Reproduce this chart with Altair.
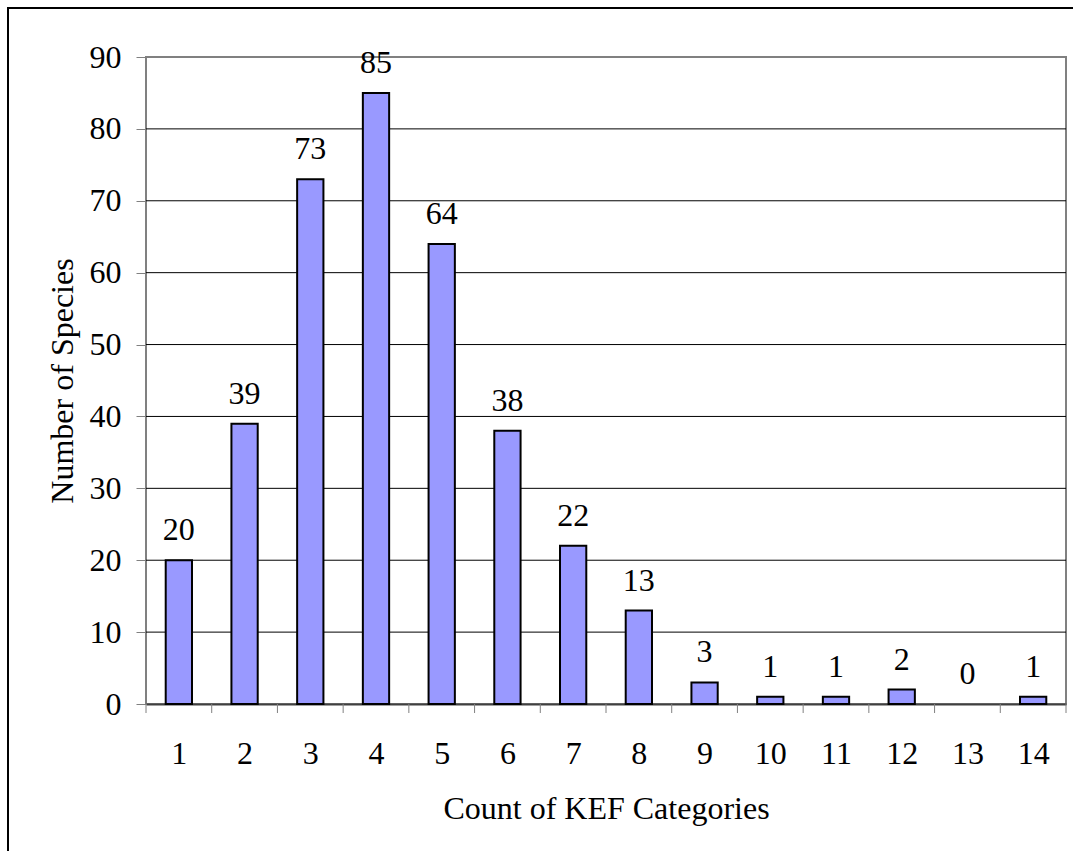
import altair as alt
import pandas as pd

# Number of species by how many KEF categories they fall into
categories = list(range(1, 15))
species = [20, 39, 73, 85, 64, 38, 22, 13, 3, 1, 1, 2, 0, 1]
y_ticks = [0, 10, 20, 30, 40, 50, 60, 70, 80, 90]
grid_values = [10, 20, 30, 40, 50, 60, 70, 80]
tick_edges = [c - 0.5 for c in categories] + [categories[-1] + 0.5]

df = pd.DataFrame({"kef": categories, "n": species})
grid_df = pd.DataFrame({"g": grid_values})
edge_df = pd.DataFrame({"b": tick_edges})
frame_df = pd.DataFrame({"k": [0]})

W, H = 920, 647
FONT = "Liberation Serif"
FS = 32

xscale = alt.Scale(domain=[0.5, 14.5], nice=False, zero=False)
yscale = alt.Scale(domain=[0, 90], nice=False)

# the same axis definitions go on every layer so the shared axes merge cleanly
x_axis = alt.Axis(
    values=categories, title="Count of KEF Categories", grid=False, ticks=False,
    domain=True, domainColor="#404040", domainWidth=2,
    labelFont=FONT, labelFontSize=FS, labelColor="black", labelPadding=59,
    labelBaseline="alphabetic",
    titleFont=FONT, titleFontSize=FS, titleFontWeight="normal", titleColor="black",
    titleBaseline="alphabetic", titleY=114, titleX=W / 2,
)
y_axis = alt.Axis(
    values=y_ticks, title="Number of Species", grid=False, domain=False,
    ticks=True, tickSize=10, tickColor="#808080", tickWidth=1,
    labelFont=FONT, labelFontSize=FS, labelColor="black", labelPadding=15,
    titleFont=FONT, titleFontSize=FS, titleFontWeight="normal", titleColor="black",
    titleBaseline="middle", titleX=-84, titleY=H / 2, titleAngle=270,
)

labels = alt.Chart(df).mark_text(
    baseline="alphabetic", dy=-20, font=FONT, fontSize=FS, color="black"
).encode(
    x=alt.X("kef:Q", scale=xscale, axis=x_axis),
    y=alt.Y("n:Q", scale=yscale, axis=y_axis),
    text="n:Q",
)

grid = alt.Chart(grid_df).mark_rule(color="black", strokeWidth=1).encode(
    y=alt.Y("g:Q", scale=yscale, axis=y_axis),
)

bars = (
    alt.Chart(df)
    .transform_filter("datum.n > 0")
    .transform_calculate(x0="datum.kef - 0.2", x1="datum.kef + 0.2")
    .mark_rect(color="#9999FF", stroke="black", strokeWidth=2)
    .encode(
        x=alt.X("x0:Q", scale=xscale, axis=x_axis),
        x2="x1:Q",
        y=alt.Y("n:Q", scale=yscale, axis=y_axis),
        y2=alt.datum(0),
    )
)

edge_ticks = alt.Chart(edge_df).mark_rule(color="#808080", strokeWidth=1).encode(
    x=alt.X("b:Q", scale=xscale, axis=x_axis),
    y=alt.value(H), y2=alt.value(H + 9),
)

frame = alt.Chart(frame_df).mark_rect(
    fillOpacity=0, stroke="black", strokeWidth=2
).encode(
    x=alt.value(-138), x2=alt.value(W + 40),
    y=alt.value(-49), y2=alt.value(H + 180),
)

chart = (
    alt.layer(grid, bars, labels, edge_ticks, frame)
    .properties(
        width=W, height=H, autosize="none",
        padding={"left": 146, "top": 57, "right": 7, "bottom": 147},
        background="white",
    )
    .configure_view(stroke="#808080", strokeWidth=2)
)

chart.save("out.html", embed_options={"renderer": "svg", "actions": False})
